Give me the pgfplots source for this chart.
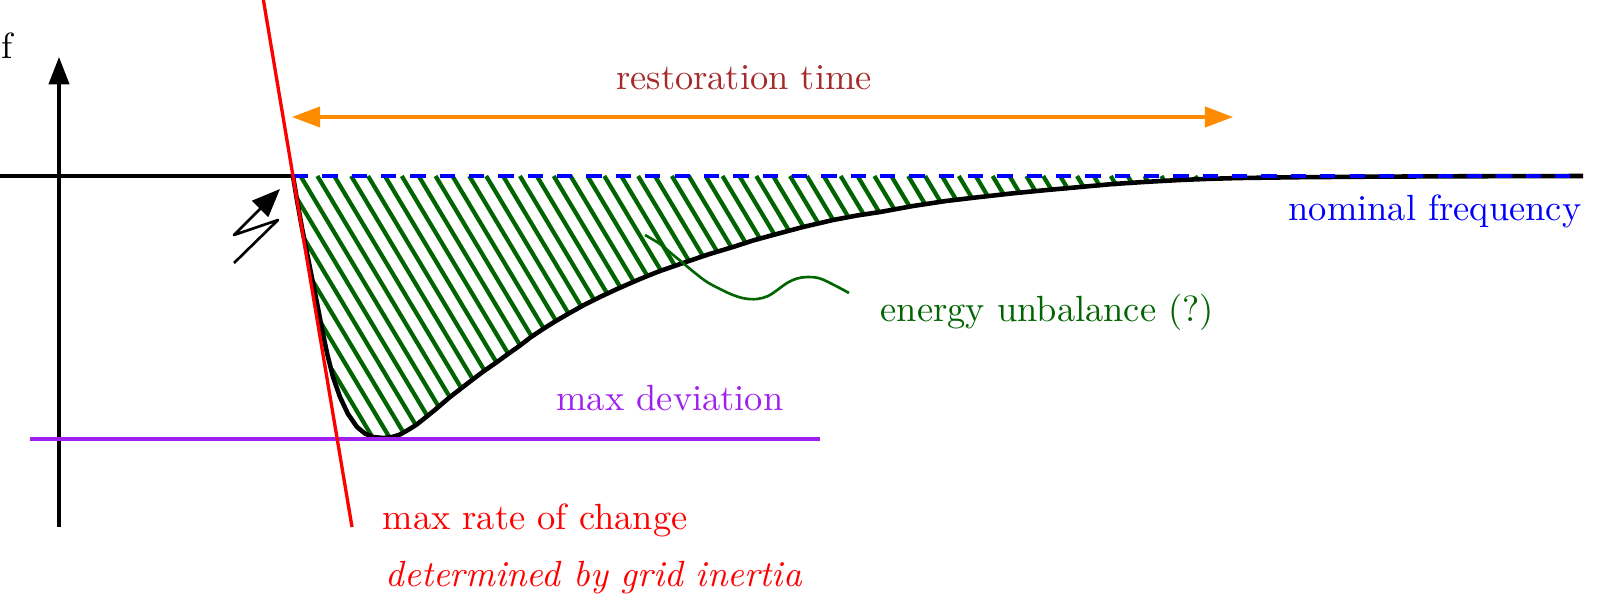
\documentclass[border=0pt]{standalone}
\usepackage{graphicx}
\usepackage{pgfplots}
\pgfplotsset{compat=1.18}
\usetikzlibrary{arrows.meta}
\definecolor{hatchgreen}{RGB}{0,100,0}
\definecolor{restbrown}{RGB}{165,42,42}
\definecolor{devpurple}{RGB}{160,32,240}
\definecolor{arroworange}{RGB}{255,140,0}
\newcommand{\lab}[1]{\scalebox{1.037}{#1}}
\begin{document}
\begin{tikzpicture}
\path[use as bounding box] (0,0) rectangle (16cm,6.03cm);
\begin{axis}[at={(0,0)},anchor=south west,scale only axis,width=16cm,height=6.03cm,
  xmin=0,xmax=1600,ymin=0,ymax=603,y dir=reverse,hide axis,clip mode=individual,
  unbounded coords=jump]
% hatching
\addplot[hatchgreen,line width=1.2pt,no marks] coordinates {
(296.6,197.7)(426.8,415.1)(0,nan)
(304.3,238.7)(415.4,424.3)(0,nan)
(312.5,280.6)(404.1,433.6)(0,nan)
(321,323)(389.7,437.7)(0,nan)
(331.8,369.2)(372,436.4)(0,nan)
(300.5,176)(438.3,406.1)(0,nan)
(317.38,176)(449.8,397.1)(0,nan)
(334.26,176)(461.3,388.1)(0,nan)
(351.14,176)(472.9,379.4)(0,nan)
(368.02,176)(484.7,370.9)(0,nan)
(384.9,176)(496.5,362.4)(0,nan)
(401.78,176)(508.2,353.7)(0,nan)
(418.66,176)(519.9,345)(0,nan)
(435.54,176)(531.6,336.4)(0,nan)
(452.42,176)(543.3,327.8)(0,nan)
(469.3,176)(556.1,321)(0,nan)
(486.18,176)(568.8,314)(0,nan)
(503.06,176)(581.5,307)(0,nan)
(519.94,176)(594.3,300.2)(0,nan)
(536.82,176)(607.3,293.7)(0,nan)
(553.7,176)(620.6,287.7)(0,nan)
(570.58,176)(633.9,281.7)(0,nan)
(587.46,176)(647.7,276.5)(0,nan)
(604.34,176)(661.5,271.5)(0,nan)
(621.22,176)(675.2,266.2)(0,nan)
(638.1,176)(689,261)(0,nan)
(654.98,176)(703.2,256.5)(0,nan)
(671.86,176)(717.4,252)(0,nan)
(688.74,176)(731.5,247.4)(0,nan)
(705.62,176)(745.8,243.1)(0,nan)
(722.5,176)(760.1,238.8)(0,nan)
(739.38,176)(774.5,234.6)(0,nan)
(756.26,176)(789.1,230.8)(0,nan)
(773.14,176)(803.8,227.3)(0,nan)
(790.02,176)(818.4,223.4)(0,nan)
(806.9,176)(833.2,219.9)(0,nan)
(823.78,176)(848.4,217.1)(0,nan)
(840.66,176)(863.7,214.4)(0,nan)
(857.54,176)(878.9,211.7)(0,nan)
(874.42,176)(894.2,209)(0,nan)
(891.3,176)(909.7,206.7)(0,nan)
(908.18,176)(925.4,204.7)(0,nan)
(925.06,176)(941,202.6)(0,nan)
(941.94,176)(956.7,200.7)(0,nan)
(958.82,176)(972.3,198.5)(0,nan)
(975.7,176)(988,196.5)(0,nan)
(992.58,176)(1003.8,194.7)(0,nan)
(1009.46,176)(1019.9,193.4)(0,nan)
(1026.34,176)(1036,192.2)(0,nan)
(1043.22,176)(1052.1,190.8)(0,nan)
(1060.1,176)(1068.2,189.5)(0,nan)
(1076.98,176)(1084.3,188.2)(0,nan)
(1093.86,176)(1100.3,186.8)(0,nan)
(1110.74,176)(1116.5,185.6)(0,nan)
(1127.62,176)(1132.6,184.3)(0,nan)
(1144.5,176)(1148.7,183)(0,nan)
(1161.38,176)(1164.8,181.7)(0,nan)
(1178.26,176)(1180.9,180.4)(0,nan)
(1195.14,176)(1197,179)
};
% horizontal base line
\addplot[black,line width=1.3pt,no marks] coordinates {(0,176)(293,176)};
% frequency curve
\addplot[black,line width=1.3pt,no marks,line join=round] coordinates {
(293,176)(297,200)(302,228)(307,253)(312,278)(317,303)(322,329)(327,353)(333,377)(340,397)(348,414)(357,427)(365,433.5)(373,437)(383,438)(392,437)(400,434.5)(408,430)(416,425)(423,419.5)(436,409)(450,397)(461,388.5)(472,380)(484,371)(497,362)(508,354)(520,345.5)(531,337)(543,329)(555,321.5)(567,314.5)(583,305.5)(600,297)(616,289.5)(633,282)(646,276.5)(660,271)(683,263)(708,254.5)(733,247)(753,240.5)(773,235)(803,227)(833,220)(857,215.5)(880,212)(913,206)(946,201)(980,197)(1013,193.3)(1047,190)(1080,187)(1113,184)(1147,181.8)(1180,180)(1210,178.8)(1240,178)(1300,177.2)(1367,176.7)(1450,176.3)(1583,176)};
% nominal dashed
\addplot[blue,line width=1.25pt,no marks,dash pattern=on 4.35pt off 4pt] coordinates {(293,176)(1583,176)};
% y axis
\addplot[black,line width=0.9pt,no marks,-{Triangle[length=7.8pt,width=5.8pt]}] coordinates {(59,527)(59,57)};
% restoration arrow
\addplot[arroworange,line width=0.9pt,no marks,{Triangle[length=8pt,width=5.8pt]}-{Triangle[length=8pt,width=5.8pt]}] coordinates {(292,117)(1233,117)};
% max deviation
\addplot[devpurple,line width=0.9pt,no marks] coordinates {(30,439)(820,439)};
% max rate of change
\addplot[red,line width=0.95pt,no marks] coordinates {(263.4,0)(352,527)};
% lightning
\addplot[black,line width=0.75pt,line join=round,no marks,-{Triangle[length=8pt,width=6.4pt]}] coordinates {(234,263)(278,220)(234,235)(280,189)};
% label curve
\addplot[hatchgreen,line width=0.75pt,no marks,smooth,tension=0.6] coordinates {
(645,235)(660,244)(672,254)(683,263)(695,273)(707,282)(720,289)(733,295)(745,298.5)(757,299)(768,296)(778,289.5)(787,283)(797,278.5)(808,277)(820,278.5)(835,285.5)(849,293)};
\node[anchor=base west,inner sep=0pt] at (axis cs:1,59) {\lab{f}};
\node[anchor=base,inner sep=0pt,text=restbrown] at (axis cs:744,90) {\lab{restoration time}};
\node[anchor=base east,inner sep=0pt,text=blue] at (axis cs:1582,220) {\lab{nominal frequency}};
\node[anchor=base west,inner sep=0pt,text=hatchgreen] at (axis cs:880,321) {\lab{energy unbalance (?)}};
\node[anchor=base,inner sep=0pt,text=devpurple] at (axis cs:670,410) {\lab{max deviation}};
\node[anchor=base west,inner sep=0pt,text=red] at (axis cs:382,529) {\lab{max rate of change}};
\node[anchor=base west,inner sep=0pt,text=red] at (axis cs:385,586) {\lab{\itshape determined by grid inertia}};
\end{axis}
\end{tikzpicture}
\end{document}
